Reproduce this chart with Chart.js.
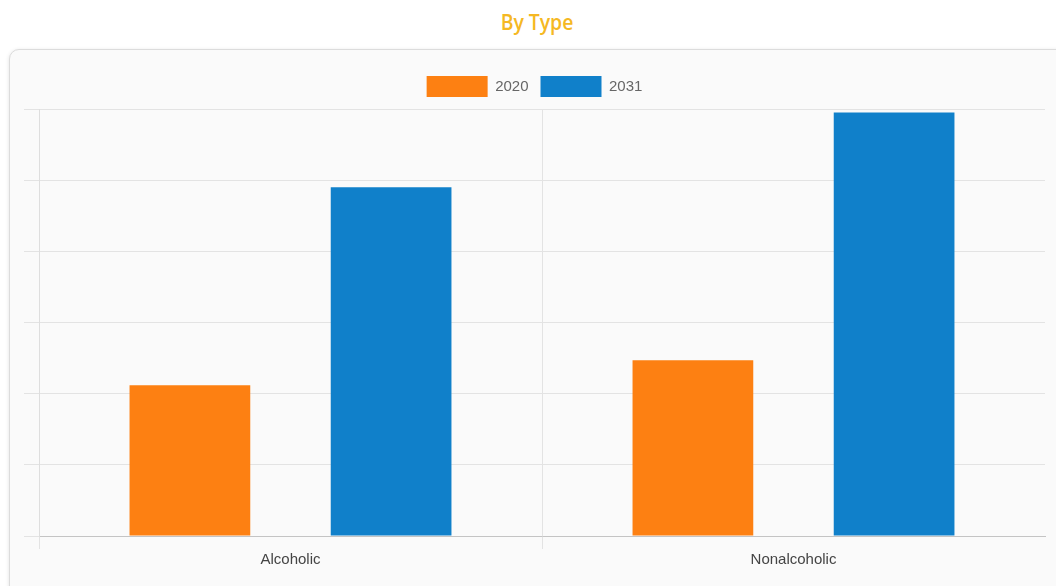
<!DOCTYPE html>
<html>
<head>
<meta charset="utf-8">
<script src="https://cdn.jsdelivr.net/npm/chart.js@4.4.0/dist/chart.umd.min.js"></script>
<style>
  html, body { margin: 0; padding: 0; background: #fff; overflow: hidden; }
  body { width: 1056px; height: 586px; position: relative; }
  #title {
    position: absolute; left: 0; width: 1074px; top: 6px;
    text-align: center; font-family: "Open Sans", sans-serif; font-weight: 600;
    font-size: 22px; color: #F5B823; transform: scaleX(0.88);
  }
  #card {
    position: absolute; left: 9px; top: 49px; width: 1070px; height: 560px;
    background: #fafafa; border: 1px solid #dcdcdc; border-radius: 10px;
    box-shadow: 0 1px 4px rgba(0,0,0,0.12);
  }
  #wrap { position: absolute; left: 9px; top: 49px; width: 1047px; height: 537px; }
</style>
</head>
<body>
<div id="title">By Type</div>
<div id="card"></div>
<div id="wrap"><canvas id="chart"></canvas></div>
<script>
// categories and series
var categories = ["Alcoholic", "Nonalcoholic"];
var seriesNames = ["2020", "2031"];
var values2020 = [2.12, 2.47];
var values2031 = [4.9, 5.95];
var seriesColors = ["#FD8012", "#1080CA"];

// a little more room under the legend
var legendGap = {
  id: "legendGap",
  beforeInit: function(chart) {
    var fit = chart.legend.fit;
    chart.legend.fit = function() {
      fit.bind(chart.legend)();
      this.height += 2;
    };
  }
};

var ctx = document.getElementById("chart").getContext("2d");
var chart = new Chart(ctx, {
  type: "bar",
  data: {
    labels: categories,
    datasets: [{
      label: seriesNames[0],
      data: values2020,
      backgroundColor: seriesColors[0],
      categoryPercentage: 0.8,
      barPercentage: 0.6
    }, {
      label: seriesNames[1],
      data: values2031,
      backgroundColor: seriesColors[1],
      categoryPercentage: 0.8,
      barPercentage: 0.6
    }]
  },
  plugins: [legendGap],
  options: {
    responsive: true,
    maintainAspectRatio: false,
    animation: false,
    layout: { padding: { left: 15, right: 11, top: 15, bottom: 15 } },
    plugins: {
      legend: {
        position: "top",
        labels: {
          boxWidth: 61,
          boxHeight: 21,
          padding: 12,
          color: "#666",
          font: { family: "Liberation Sans", size: 15 }
        }
      },
      tooltip: { enabled: false }
    },
    scales: {
      x: {
        grid: {
          // no line on the far right edge
          color: function(c) { return c.type === "tick" ? "#e3e3e3" : "rgba(0,0,0,0)"; },
          tickLength: 13
        },
        border: { color: "#c4c4c4" },
        ticks: { color: "#444", padding: 2, font: { family: "Liberation Sans", size: 15 } }
      },
      y: {
        min: 0,
        max: 6,
        grid: { color: "#e3e3e3", tickLength: 15 },
        border: { color: "#dedede" },
        ticks: { display: false, stepSize: 1 }
      }
    }
  }
});
</script>
</body>
</html>
